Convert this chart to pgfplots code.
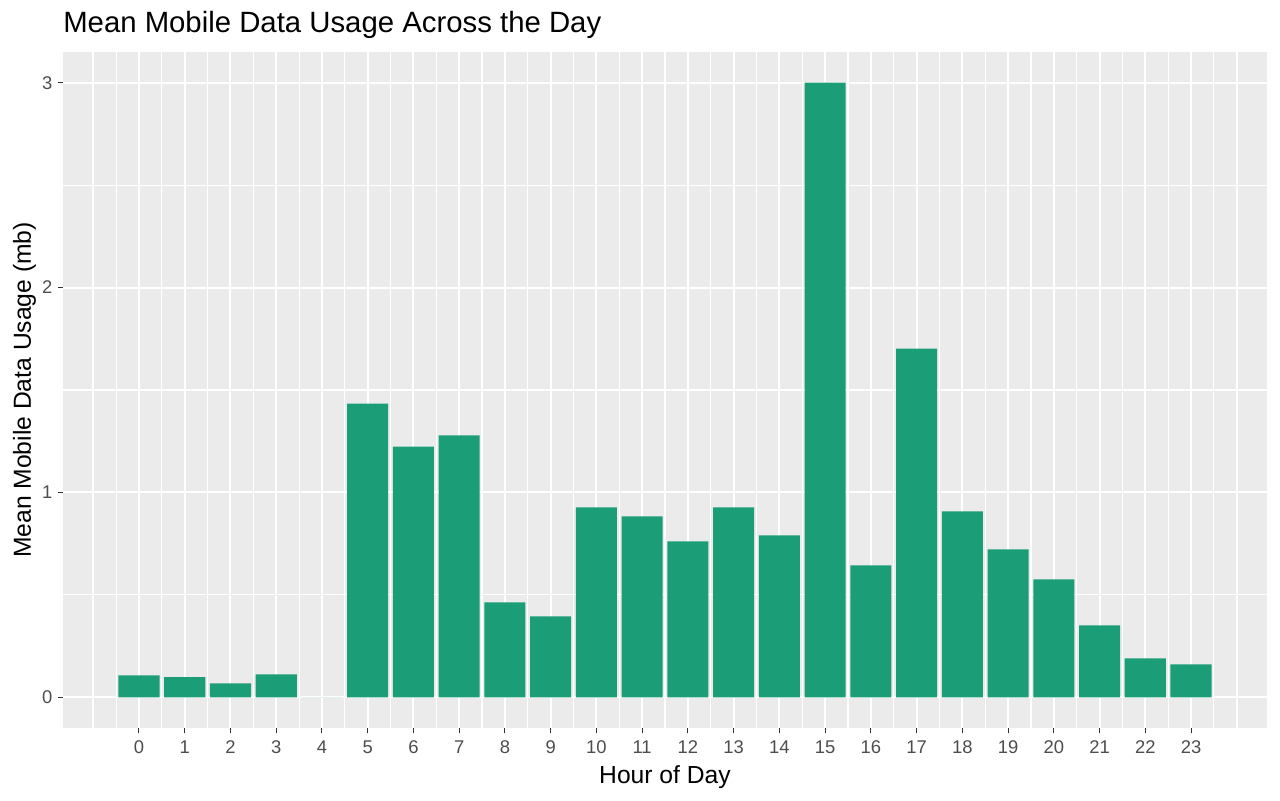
\documentclass[border=0pt]{standalone}
\usepackage{pgfplots}
\pgfplotsset{compat=1.18}
\usepackage{fontspec}
\setmainfont{Liberation Sans}
\definecolor{panelbg}{HTML}{EBEBEB}
\definecolor{barcol}{HTML}{1B9E77}
\definecolor{ticktext}{HTML}{4D4D4D}
\definecolor{tickcol}{HTML}{333333}
\begin{document}
\begin{tikzpicture}
\path[use as bounding box] (0,0) rectangle (960pt,600pt);
\begin{axis}[
  at={(47.25pt,54pt)}, anchor=south west,
  scale only axis, width=903pt, height=507pt,
  xmin=-1.66, xmax=24.66, ymin=-0.15, ymax=3.15,
  axis lines*=left, axis line style={draw=none},
  axis background/.style={fill=panelbg},
  xtick={0,...,23}, ytick={0,1,2,3},
  minor xtick={-0.5,0.5,...,23.5}, minor ytick={0.5,1.5,2.5},
  extra x ticks={-1,24}, extra x tick labels={},
  extra x tick style={major tick length=0pt, grid=major},
  grid=both,
  major grid style={white, line width=1.6pt},
  minor grid style={white, line width=0.8pt},
  tick align=outside, major tick length=4pt, minor tick length=0pt,
  tick style={draw=tickcol, line width=0.8pt},
  /pgf/number format/assume math mode=true,
  ticklabel style={font=\fontsize{13.8}{16}\selectfont, text=ticktext},
  xticklabel style={yshift=-2pt},
  yticklabel style={xshift=-0.5pt},
  clip=false,
]
\addplot[ybar, bar width=0.9, bar shift=0pt, fill=barcol, draw=none] coordinates {
(0,0.107) (1,0.098) (2,0.068) (3,0.112) (4,0) (5,1.434) (6,1.224) (7,1.278)
(8,0.463) (9,0.395) (10,0.927) (11,0.883) (12,0.761) (13,0.927) (14,0.790)
(15,3.000) (16,0.644) (17,1.702) (18,0.907) (19,0.722) (20,0.576) (21,0.351)
(22,0.190) (23,0.161)
};
\end{axis}
\node[anchor=base west, inner sep=0pt, font=\fontsize{22}{26}\selectfont] at (47.25pt,575.25pt) {Mean Mobile Data Usage Across the Day};
\node[anchor=base, inner sep=0pt, font=\fontsize{18.5}{22}\selectfont] at (498.75pt,12.75pt) {Hour of Day};
\node[anchor=base, rotate=90, inner sep=0pt, font=\fontsize{18.5}{22}\selectfont] at (23.25pt,307.5pt) {Mean Mobile Data Usage (mb)};
\end{tikzpicture}
\end{document}
